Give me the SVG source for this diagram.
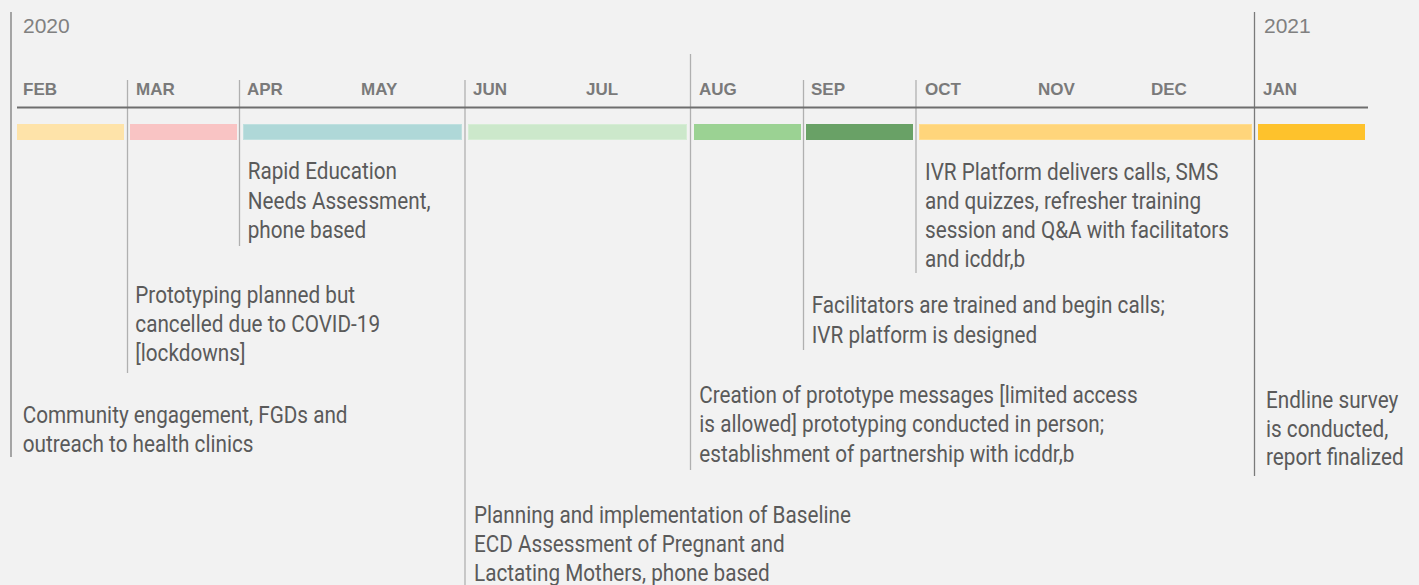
<svg xmlns="http://www.w3.org/2000/svg" width="1419" height="585" viewBox="0 0 1419 585">
<style>
.bg{fill:#f2f2f2}
.year{font-family:"Liberation Sans",Arial,sans-serif;font-size:21px;fill:#808080}
.mon{font-family:"Liberation Sans",Arial,sans-serif;font-size:17px;font-weight:bold;fill:#7a7a7a}
.yl{stroke:#7a7a7a;stroke-width:1.3;fill:none}
.ml{stroke:#b0b0b0;stroke-width:1.3;fill:none}
.axis{stroke:#6e6e6e;stroke-width:2;fill:none}
.t{font-family:Roboto,"Noto Sans",sans-serif;font-size:23px;fill:#5a5a5a}
</style>
<rect class="bg" x="0" y="0" width="1419" height="585"/>

<g id="connectors">
  <line class="yl" x1="11" y1="12" x2="11" y2="457"/>
  <line class="yl" x1="1254.5" y1="12" x2="1254.5" y2="476"/>
  <line class="ml" x1="127.5" y1="80" x2="127.5" y2="373"/>
  <line class="ml" x1="239.5" y1="80" x2="239.5" y2="246"/>
  <line class="ml" x1="465" y1="80" x2="465" y2="585"/>
  <line class="ml" x1="690.5" y1="54" x2="690.5" y2="470"/>
  <line class="ml" x1="803.5" y1="80" x2="803.5" y2="350"/>
  <line class="ml" x1="916" y1="80" x2="916" y2="273"/>
  <line class="axis" x1="17" y1="107.5" x2="1368" y2="107.5"/>
</g>

<g id="years">
  <text class="year" x="23" y="33">2020</text>
  <text class="year" x="1264" y="33">2021</text>
</g>

<g id="months">
  <text class="mon" x="23" y="95">FEB</text>
  <text class="mon" x="136" y="95">MAR</text>
  <text class="mon" x="247" y="95">APR</text>
  <text class="mon" x="361" y="95">MAY</text>
  <text class="mon" x="473" y="95">JUN</text>
  <text class="mon" x="586" y="95">JUL</text>
  <text class="mon" x="699" y="95">AUG</text>
  <text class="mon" x="811" y="95">SEP</text>
  <text class="mon" x="925" y="95">OCT</text>
  <text class="mon" x="1038" y="95">NOV</text>
  <text class="mon" x="1151" y="95">DEC</text>
  <text class="mon" x="1263" y="95">JAN</text>
</g>

<g id="bars">
  <rect x="17" y="124" width="107" height="16" fill="#fee3a9"/>
  <rect x="130" y="124" width="107" height="16" fill="#f9c4c4"/>
  <rect x="243.5" y="124.5" width="218" height="15" fill="#afd8d8" stroke="#bfe0df" stroke-width="1"/>
  <rect x="468.5" y="124.5" width="218" height="15" fill="#cce8cb" stroke="#d6edd5" stroke-width="1"/>
  <rect x="694" y="124" width="107" height="16" fill="#9bd293"/>
  <rect x="806" y="124" width="107" height="16" fill="#69a166"/>
  <rect x="919.5" y="124.5" width="332" height="15" fill="#ffd57b" stroke="#ffdd90" stroke-width="1"/>
  <rect x="1258" y="124" width="107" height="16" fill="#fec22c"/>
</g>

<g id="node-feb" transform="translate(22.7,0) scale(0.9,1)">
  <text class="t" x="0" y="422.7">Community engagement, FGDs and</text>
  <text class="t" x="0" y="451.7">outreach to health clinics</text>
</g>
<g id="node-mar" transform="translate(135.3,0) scale(0.9,1)">
  <text class="t" x="0" y="303.3">Prototyping planned but</text>
  <text class="t" x="0" y="332.5">cancelled due to COVID-19</text>
  <text class="t" x="0" y="361.5">[lockdowns]</text>
</g>
<g id="node-apr" transform="translate(247.7,0) scale(0.9,1)">
  <text class="t" x="0" y="179.3">Rapid Education</text>
  <text class="t" x="0" y="208.8">Needs Assessment,</text>
  <text class="t" x="0" y="238.3">phone based</text>
</g>
<g id="node-jun" transform="translate(474,0) scale(0.9,1)">
  <text class="t" x="0" y="522.7">Planning and implementation of Baseline</text>
  <text class="t" x="0" y="551.7">ECD Assessment of Pregnant and</text>
  <text class="t" x="0" y="580.7">Lactating Mothers, phone based</text>
</g>
<g id="node-aug" transform="translate(699.3,0) scale(0.9,1)">
  <text class="t" x="0" y="403.3">Creation of prototype messages [limited access</text>
  <text class="t" x="0" y="432.5">is allowed] prototyping conducted in person;</text>
  <text class="t" x="0" y="461.7">establishment of partnership with icddr,b</text>
</g>
<g id="node-sep" transform="translate(811.7,0) scale(0.9,1)">
  <text class="t" x="0" y="313.3">Facilitators are trained and begin calls;</text>
  <text class="t" x="0" y="342.7">IVR platform is designed</text>
</g>
<g id="node-oct" transform="translate(925,0) scale(0.9,1)">
  <text class="t" x="0" y="180">IVR Platform delivers calls, SMS</text>
  <text class="t" x="0" y="209.3">and quizzes, refresher training</text>
  <text class="t" x="0" y="238.3">session and Q&amp;A with facilitators</text>
  <text class="t" x="0" y="267.3">and icddr,b</text>
</g>
<g id="node-jan" transform="translate(1266,0) scale(0.9,1)">
  <text class="t" x="0" y="408.3">Endline survey</text>
  <text class="t" x="0" y="436.7">is conducted,</text>
  <text class="t" x="0" y="465">report finalized</text>
</g>
</svg>
